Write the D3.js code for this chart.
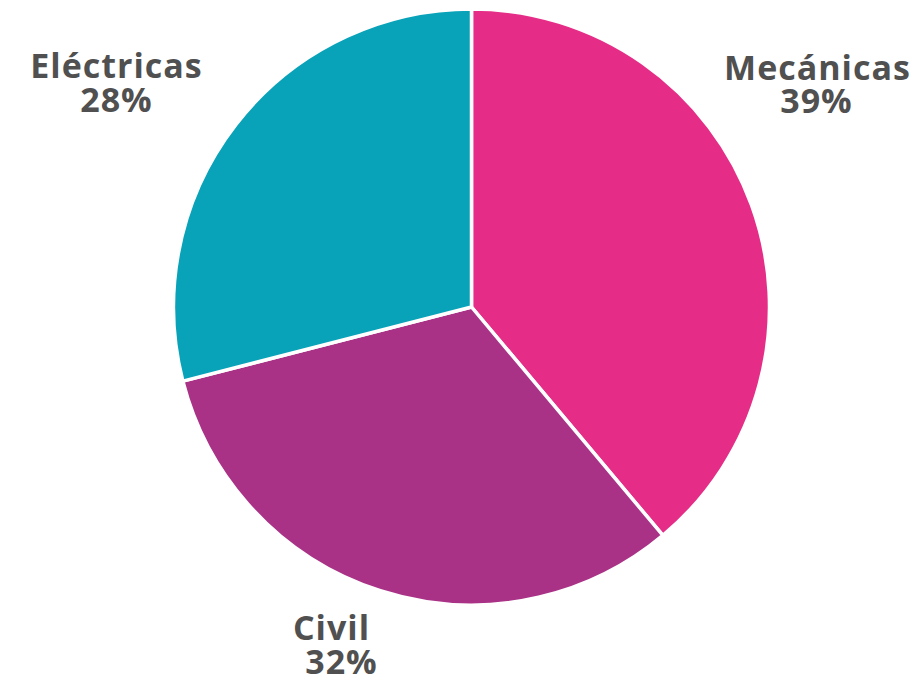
<!DOCTYPE html>
<html>
<head>
<meta charset="utf-8">
<script src="https://cdn.jsdelivr.net/npm/d3@7"></script>
<style>
  html, body { margin: 0; padding: 0; background: #ffffff; }
  svg { display: block; }
</style>
</head>
<body>
<svg id="chart" width="918" height="683"></svg>
<script>
// Data
const categories = ["Mecánicas", "Civil", "Eléctricas"];
const shares = [38.9, 32.1, 29.0];          // slice sizes as drawn
const pctLabels = ["39%", "32%", "28%"];    // labels as printed
const colors = ["#E52D87", "#A93287", "#08A2B9"];

const svg = d3.select("#chart");
const cx = 471.5, cy = 307, R = 298;

const pie = d3.pie().sort(null).value(d => d)(shares);
const arc = d3.arc().innerRadius(0).outerRadius(R);

const g = svg.append("g").attr("transform", `translate(${cx},${cy})`);
g.selectAll("path")
  .data(pie)
  .join("path")
  .attr("d", arc)
  .attr("fill", (d, i) => colors[i])
  .attr("stroke", "#ffffff")
  .attr("stroke-width", 3.5)
  .attr("stroke-linejoin", "round");

// label anchor placement (relative to the pie centre)
const labelPos = [
  {name: [346, -227], pct: [345, -194]},
  {name: [-140, 333], pct: [-130, 367]},
  {name: [-355, -229], pct: [-355, -195]}
];

const labels = svg.append("g")
  .attr("font-family", "'Open Sans', sans-serif")
  .attr("font-weight", 700)
  .attr("font-size", 34)
  .attr("letter-spacing", "1px")
  .attr("fill", "#505050")
  .attr("text-anchor", "middle");

categories.forEach((c, i) => {
  labels.append("text")
    .attr("x", cx + labelPos[i].name[0])
    .attr("y", cy + labelPos[i].name[1])
    .text(c);
  labels.append("text")
    .attr("x", cx + labelPos[i].pct[0])
    .attr("y", cy + labelPos[i].pct[1])
    .text(pctLabels[i]);
});
</script>
</body>
</html>
